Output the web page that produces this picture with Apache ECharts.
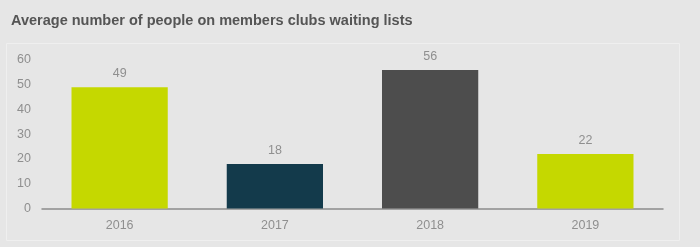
<!DOCTYPE html>
<html><head><meta charset="utf-8">
<style>html,body{margin:0;padding:0;background:#e6e6e6;}#c{width:700px;height:247px;}</style>
<script src="https://cdn.jsdelivr.net/npm/echarts@6/dist/echarts.min.js"></script>
</head><body><div id="c"></div>
<script>
var categories = ['2016', '2017', '2018', '2019'];
var values = [49, 18, 56, 22];
var barColors = ['#c5d800', '#133a4b', '#4d4d4d', '#c5d800'];
var yTicks = [0, 10, 20, 30, 40, 50, 60];

var chart = echarts.init(document.getElementById('c'), null, {renderer: 'canvas'});
chart.setOption({
  backgroundColor: '#e6e6e6',
  animation: false,
  title: {
    text: 'Average number of people on members clubs waiting lists',
    left: 6, top: 8,
    textStyle: {fontFamily: 'Liberation Sans, Arial, sans-serif', fontSize: 14.5, fontWeight: 'bold', color: '#555555'}
  },
  graphic: [{
    type: 'rect', z: -1, silent: true,
    shape: {x: 6.5, y: 43.5, width: 673, height: 197},
    style: {fill: '#e6e6e6', stroke: '#efefef', lineWidth: 1}
  }],
  grid: {left: 42, right: 37, top: 60, bottom: 38.5},
  xAxis: {
    type: 'category', data: categories,
    axisLine: {lineStyle: {color: '#8c8c8c', width: 1.5}},
    axisTick: {show: false},
    axisLabel: {color: '#8f8f8f', fontSize: 12.5, fontFamily: 'Liberation Sans, Arial, sans-serif', margin: 11}
  },
  yAxis: {
    type: 'value', min: yTicks[0], max: yTicks[yTicks.length - 1], interval: 10,
    axisLine: {show: false}, axisTick: {show: false},
    splitLine: {show: false},
    axisLabel: {color: '#8f8f8f', fontSize: 12.5, fontFamily: 'Liberation Sans, Arial, sans-serif', margin: 11}
  },
  series: [{
    type: 'bar', barWidth: '62%',
    data: values.map(function (v, i) { return {value: v, itemStyle: {color: barColors[i]}}; }),
    label: {show: true, position: 'top', distance: 7, color: '#8f8f8f', fontSize: 12.5, fontFamily: 'Liberation Sans, Arial, sans-serif'}
  }]
});
</script></body></html>
